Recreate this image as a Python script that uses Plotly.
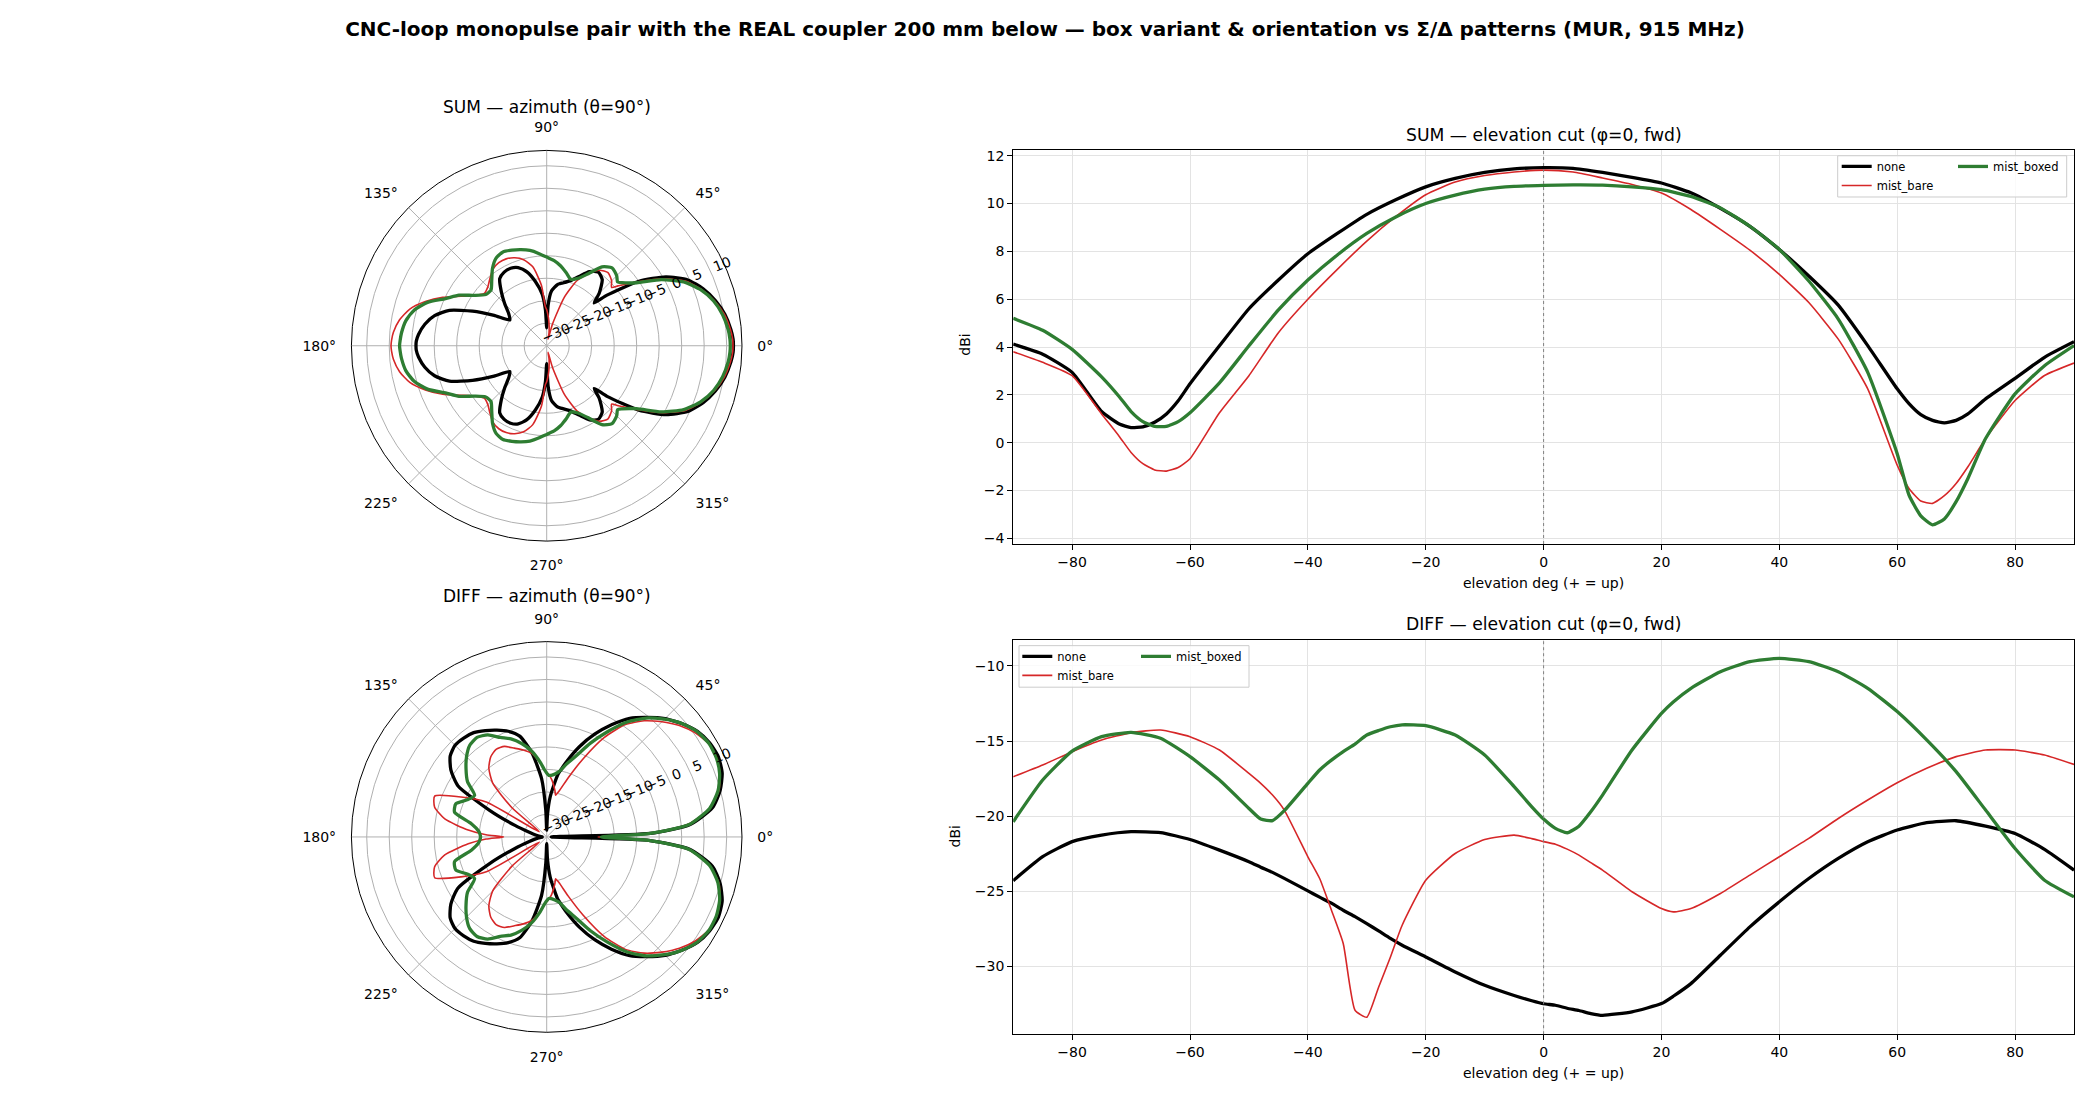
import plotly.graph_objects as go

# ---- azimuth cuts (theta = 90 deg), degrees / dBi ----
az_deg = [0, 2, 5, 10, 15, 20, 25, 30, 35, 40, 42, 45, 50, 55, 60, 65, 70, 75, 78, 80, 85, 88,
          90, 92, 95, 100, 105, 110, 115, 120, 125, 130, 135, 140, 145, 150, 155, 160, 165, 170,
          175, 178, 180,
          182, 185, 190, 195, 200, 205, 210, 215, 220, 225, 230, 235, 240, 245, 250, 255, 260,
          265, 268, 270, 272, 275, 280, 282, 285, 290, 295, 300, 305, 310, 315, 318, 320, 325,
          330, 335, 340, 345, 350, 355, 358, 360]

sum_az_none = [11.5, 11.45, 11.1, 10.2, 8.8, 7.0, 4.6, 0.6, -5.0, -12.5, -15.8, -13.5, -10.8, -10.0,
               -11.0, -13.0, -14.6, -15.5, -15.9, -16.2, -17.8, -21.0, -26.0, -22.0, -18.5, -15.5,
               -13.0, -11.5, -11.0, -11.1, -11.8, -14.3, -16.8, -19.0, -20.0, -16.5, -11.8, -7.0,
               -4.2, -2.5, -1.4, -1.0, -0.95,
               -1.0, -1.4, -2.5, -4.2, -7.0, -11.8, -16.5, -20.0, -19.0, -16.8, -14.3, -11.8, -11.1,
               -11.0, -11.5, -13.0, -15.5, -18.5, -22.0, -26.0, -21.0, -17.8, -16.2, -15.9, -15.5,
               -14.6, -13.0, -11.0, -10.0, -10.8, -13.5, -15.8, -12.5, -5.0, 0.6, 4.6, 7.0, 8.8,
               10.2, 11.1, 11.45, 11.5]
sum_az_bare = [11.4, 11.35, 11.0, 10.1, 8.6, 6.6, 4.0, -0.2, -5.2, -9.3, -10.6, -9.6, -8.8, -9.5,
               -11.5, -14.0, -18.5, -25.0, -28.5, -27.0, -24.5, -23.0, -22.0, -21.3, -16.5, -12.2,
               -10.2, -9.2, -8.7, -8.7, -9.2, -10.4, -11.5, -11.9, -10.5, -8.0, -4.5, -1.3, 1.5,
               3.2, 4.2, 4.5, 4.6,
               4.5, 4.2, 3.2, 1.5, -1.3, -4.5, -8.0, -10.5, -11.9, -11.5, -10.4, -9.2, -8.7, -8.7,
               -9.2, -10.2, -12.2, -16.5, -21.3, -22.0, -23.0, -24.5, -27.0, -28.5, -25.0, -18.5,
               -14.0, -11.5, -9.5, -8.8, -9.6, -10.6, -9.3, -5.2, -0.2, 4.0, 6.6, 8.6, 10.1, 11.0,
               11.35, 11.4]
sum_az_boxed = [10.8, 10.75, 10.5, 9.7, 8.4, 6.4, 3.6, -0.6, -5.6, -8.2, -8.8, -8.0, -7.4, -8.6,
                -11.5, -13.5, -14.3, -13.2, -12.5, -12.0, -11.0, -10.6, -10.3, -10.0, -9.4, -8.5,
                -7.9, -7.4, -7.0, -7.5, -9.0, -11.0, -12.5, -12.3, -10.5, -7.5, -5.2, -1.8, 0.5,
                1.8, 2.4, 2.6, 2.7,
                2.6, 2.4, 1.8, 0.5, -1.8, -5.2, -7.5, -10.5, -12.3, -12.5, -11.0, -9.0, -7.5, -7.0,
                -7.4, -7.9, -8.5, -9.4, -10.0, -10.3, -10.6, -11.0, -12.0, -12.5, -13.2, -14.3,
                -13.5, -11.5, -8.6, -7.4, -8.0, -8.8, -8.2, -5.6, -0.6, 3.6, 6.4, 8.4, 9.7, 10.5,
                10.75, 10.8]

diff_az_none = [-29.0, -7.0, 2.0, 7.4, 9.9, 11.5, 12.1, 11.8, 10.9, 9.2, 8.4, 7.2, 4.7, 2.2, -1.2,
                -4.8, -8.6, -12.5, -14.7, -16.0, -21.0, -25.0, -28.5, -24.0, -17.0, -11.0, -6.8,
                -5.0, -3.8, -2.7, -1.7, -1.3, -1.2, -2.0, -4.0, -7.2, -16.0, -22.5, -26.0, -27.5,
                -28.5, -29.0, -29.0,
                -29.0, -28.5, -27.5, -26.0, -22.5, -16.0, -7.2, -4.0, -2.0, -1.2, -1.3, -1.7, -2.7,
                -3.8, -5.0, -6.8, -11.0, -17.0, -24.0, -28.5, -25.0, -21.0, -16.0, -14.7, -12.5,
                -8.6, -4.8, -1.2, 2.2, 4.7, 7.2, 8.4, 9.2, 10.9, 11.8, 12.1, 11.5, 9.9, 7.4, 2.0,
                -7.0, -29.0]
diff_az_bare = [-18.6, -7.0, 1.5, 6.8, 9.6, 11.0, 11.7, 11.5, 10.3, 8.5, 7.6, 6.2, 3.7, 0.5, -4.5,
                -10.8, -16.0, -19.5, -20.5, -19.5, -17.2, -16.2, -15.6, -15.0, -13.5, -11.2, -10.0,
                -9.0, -7.8, -7.5, -8.3, -10.0, -13.0, -20.0, -28.0, -14.5, -9.0, -3.5, -4.2, -7.0,
                -12.5, -16.5, -20.4,
                -16.5, -12.5, -7.0, -4.2, -3.5, -9.0, -14.5, -28.0, -20.0, -13.0, -10.0, -8.3, -7.5,
                -7.8, -9.0, -10.0, -11.2, -13.5, -15.0, -15.6, -16.2, -17.2, -19.5, -20.5, -19.5,
                -16.0, -10.8, -4.5, 0.5, 3.7, 6.2, 7.6, 8.5, 10.3, 11.5, 11.7, 11.0, 9.6, 6.8, 1.5,
                -7.0, -18.6]
diff_az_boxed = [-17.9, -7.0, 1.8, 6.8, 9.4, 10.9, 11.6, 11.6, 10.8, 9.2, 8.4, 7.0, 4.5, 1.2, -3.0,
                 -7.0, -10.8, -13.3, -14.8, -15.4, -16.2, -16.3, -15.8, -15.0, -13.3, -10.6, -8.5,
                 -6.8, -5.6, -3.8, -3.0, -3.4, -4.8, -6.6, -8.5, -11.5, -10.5, -8.5, -8.8, -13.0,
                 -14.8, -15.2, -15.3,
                 -15.2, -14.8, -13.0, -8.8, -8.5, -10.5, -11.5, -8.5, -6.6, -4.8, -3.4, -3.0, -3.8,
                 -5.6, -6.8, -8.5, -10.6, -13.3, -15.0, -15.8, -16.3, -16.2, -15.4, -14.8, -13.3,
                 -10.8, -7.0, -3.0, 1.2, 4.5, 7.0, 8.4, 9.2, 10.8, 11.6, 11.6, 10.9, 9.4, 6.8, 1.8,
                 -7.0, -17.9]

# ---- elevation cuts (phi = 0, fwd) ----
el_sum = [-90, -85, -80, -75, -72, -70, -68, -66, -64, -62, -60, -55, -50, -45, -40, -35, -30,
          -25, -20, -15, -10, -5, 0, 5, 10, 15, 20, 25, 30, 35, 40, 45, 50, 55, 60, 62, 64, 66,
          68, 70, 72, 75, 80, 85, 90]
sum_el_none = [4.12, 3.7, 2.94, 1.3, 0.78, 0.63, 0.66, 0.85, 1.2, 1.75, 2.46, 4.05, 5.6, 6.8, 7.9,
               8.75, 9.55, 10.17, 10.7, 11.05, 11.3, 11.45, 11.5, 11.47, 11.3, 11.1, 10.86, 10.45,
               9.8, 9.05, 8.08, 6.97, 5.75, 4.06, 2.25, 1.63, 1.17, 0.93, 0.83, 0.93, 1.2, 1.83,
               2.69, 3.57, 4.22]
sum_el_bare = [3.8, 3.36, 2.8, 1.2, 0.26, -0.41, -0.88, -1.14, -1.19, -1.04, -0.67, 1.25, 2.8, 4.6,
               6.0, 7.25, 8.43, 9.47, 10.37, 10.9, 11.17, 11.32, 11.4, 11.32, 11.07, 10.8, 10.44,
               9.75, 8.92, 8.05, 7.04, 5.86, 4.33, 2.25, -0.94, -1.92, -2.44, -2.54, -2.22, -1.71,
               -1.01, 0.17, 1.76, 2.81, 3.33]
sum_el_boxed = [5.2, 4.7, 3.9, 2.75, 1.92, 1.3, 0.88, 0.68, 0.68, 0.88, 1.25, 2.5, 4.05, 5.55, 6.8,
                7.85, 8.75, 9.45, 10.0, 10.35, 10.6, 10.72, 10.76, 10.78, 10.77, 10.7, 10.58, 10.3,
                9.82, 9.05, 8.08, 6.76, 5.17, 2.94, -0.46, -2.19, -3.06, -3.44, -3.19, -2.47, -1.5,
                0.17, 2.04, 3.22, 4.06]

el_diff = [-90, -85, -80, -75, -70, -65, -60, -55, -50, -48, -46, -44, -40, -38, -36, -34, -32,
           -30, -28, -26, -24, -20, -15, -10, -5, -2, 0, 2, 4, 6, 8, 10, 15, 20, 22, 25, 30, 35,
           40, 45, 50, 55, 60, 65, 70, 75, 80, 85, 90]
diff_el_none = [-24.3, -22.7, -21.7, -21.27, -21.04, -21.1, -21.56, -22.27, -23.04, -23.4, -23.75,
                -24.15, -24.98, -25.4, -25.8, -26.27, -26.7, -27.16, -27.65, -28.15, -28.6, -29.38,
                -30.38, -31.27, -31.95, -32.3, -32.5, -32.6, -32.8, -32.95, -33.15, -33.27, -33.04,
                -32.49, -32.0, -31.16, -29.27, -27.38, -25.71, -24.16, -22.82, -21.71, -20.93,
                -20.44, -20.31, -20.67, -21.16, -22.22, -23.6]
diff_el_bare = [-17.38, -16.6, -15.71, -14.93, -14.44, -14.27, -14.71, -15.6, -17.16, -17.82, -18.6,
                -19.6, -22.71, -24.16, -26.27, -28.49, -32.93, -33.4, -31.4, -29.4, -27.27, -24.27,
                -22.49, -21.56, -21.27, -21.5, -21.7, -21.87, -22.2, -22.6, -23.1, -23.6, -25.04,
                -26.16, -26.38, -26.16, -25.16, -23.93, -22.71, -21.49, -20.16, -18.93, -17.78,
                -16.82, -16.04, -15.6, -15.6, -15.93, -16.56]
diff_el_boxed = [-20.38, -17.6, -15.67, -14.71, -14.42, -14.82, -16.04, -17.6, -19.49, -20.2, -20.3,
                 -19.64, -17.82, -16.93, -16.27, -15.7, -15.2, -14.6, -14.3, -14.05, -13.92, -13.98,
                 -14.6, -15.93, -18.04, -19.38, -20.2, -20.82, -21.11, -20.67, -19.71, -18.6, -15.6,
                 -13.16, -12.4, -11.49, -10.38, -9.71, -9.49, -9.71, -10.38, -11.49, -13.04, -14.93,
                 -17.04, -19.6, -22.16, -24.27, -25.38]

variants = ["none", "mist_bare", "mist_boxed"]
colors = {"none": "#000000", "mist_bare": "#d62728", "mist_boxed": "#2e7d32"}
widths = {"none": 3.3, "mist_bare": 1.6, "mist_boxed": 3.3}

az_ticks = [0, 45, 90, 135, 180, 225, 270, 315]
az_ticktext = ["0°", "45°", "90°", "135°", "180°", "225°", "270°", "315°"]
r_ticks = [-30, -25, -20, -15, -10, -5, 0, 5, 10]
# matplotlib puts the r labels left-aligned on the 22.5° spoke; pad to mimic
r_ticktext = ["\u2007\u2007\u2007−30", "\u2007\u2007\u2007−25", "\u2007\u2007\u2007−20",
              "\u2007\u2007\u2007−15", "\u2007\u2007\u2007−10", "\u2007\u2007−5", "\u2007\u20070",
              "\u2007\u20075", "\u2007\u2007\u200710"]

FONT = "DejaVu Sans"
W, H = 2090, 1100

fig = go.Figure()

sum_az = {"none": sum_az_none, "mist_bare": sum_az_bare, "mist_boxed": sum_az_boxed}
diff_az = {"none": diff_az_none, "mist_bare": diff_az_bare, "mist_boxed": diff_az_boxed}
sum_el = {"none": sum_el_none, "mist_bare": sum_el_bare, "mist_boxed": sum_el_boxed}
diff_el = {"none": diff_el_none, "mist_bare": diff_el_bare, "mist_boxed": diff_el_boxed}

# legend split: col 1 = none, mist_bare ; col 2 = mist_boxed (matplotlib ncol=2 look)
sum_leg = {"none": "legend", "mist_bare": "legend", "mist_boxed": "legend2"}
diff_leg = {"none": "legend3", "mist_bare": "legend3", "mist_boxed": "legend4"}

for v in variants:
    pl = dict(color=colors[v], width=widths[v], shape="spline", smoothing=0.6)
    ln = dict(color=colors[v], width=widths[v], shape="spline", smoothing=0.5)
    fig.add_trace(go.Scatterpolar(r=sum_az[v], theta=az_deg, mode="lines", line=pl,
                                  subplot="polar", showlegend=False, name=v))
    fig.add_trace(go.Scatterpolar(r=diff_az[v], theta=az_deg, mode="lines", line=pl,
                                  subplot="polar2", showlegend=False, name=v))
    fig.add_trace(go.Scatter(x=el_sum, y=sum_el[v], mode="lines", line=ln, name=v,
                             xaxis="x", yaxis="y", legend=sum_leg[v]))
    fig.add_trace(go.Scatter(x=el_diff, y=diff_el[v], mode="lines", line=ln, name=v,
                             xaxis="x2", yaxis="y2", legend=diff_leg[v]))


def polar_layout(ydom):
    return dict(
        domain=dict(x=[350.7 / W, 742.7 / W], y=ydom),
        bgcolor="white",
        angularaxis=dict(rotation=0, direction="counterclockwise", tickmode="array",
                         tickvals=az_ticks, ticktext=az_ticktext, showline=True,
                         linecolor="black", linewidth=1, gridcolor="#b0b0b0", gridwidth=0.8,
                         ticks="outside", ticklen=12, tickcolor="rgba(0,0,0,0)",
                         tickfont=dict(family=FONT, size=14, color="black")),
        radialaxis=dict(range=[-30, 13.4], tickmode="array", tickvals=r_ticks,
                        ticktext=r_ticktext, angle=22.5,
                        tickangle=0, side="counterclockwise", showline=False, ticks="",
                        gridcolor="#b0b0b0", gridwidth=0.8,
                        tickfont=dict(family=FONT, size=14, color="black")),
    )


def cart_axes(ydom, yrange, dtick):
    xa = dict(domain=[1013.2 / W, 2074 / W], range=[-90, 90], tickmode="linear", tick0=-80,
              dtick=20, showline=True, mirror=True, linecolor="black", linewidth=1,
              ticks="outside", ticklen=5, tickcolor="black", showgrid=True,
              gridcolor="#e3e3e3", zeroline=False,
              tickfont=dict(family=FONT, size=14, color="black"))
    ya = dict(domain=ydom, range=yrange, dtick=dtick, showline=True, mirror=True,
              linecolor="black", linewidth=1, ticks="outside", ticklen=5, tickcolor="black",
              showgrid=True, gridcolor="#e3e3e3", zeroline=False,
              tickfont=dict(family=FONT, size=14, color="black"))
    return xa, ya


xa1, ya1 = cart_axes([1 - 544 / H, 1 - 148.3 / H], [-4.24, 12.25], 2)
xa2, ya2 = cart_axes([1 - 1036 / H, 1 - 640 / H], [-34.53, -8.25], 5)
xa1["anchor"], ya1["anchor"] = "y", "x"
xa2["anchor"], ya2["anchor"] = "y2", "x2"


def leg(x_px, top_px):
    return dict(x=x_px / W, y=1 - top_px / H, xanchor="left", yanchor="top",
                bgcolor="rgba(0,0,0,0)", borderwidth=0, orientation="v",
                font=dict(family=FONT, size=11.5, color="black"))


annotations = []


def text(s, x_px, y_px, size, angle=0):
    annotations.append(dict(text=s, x=x_px / W, y=1 - y_px / H, xref="paper", yref="paper",
                            showarrow=False, xanchor="center", yanchor="middle", textangle=angle,
                            font=dict(family=FONT, size=size, color="black")))


text("SUM — azimuth (θ=90°)", 546.7, 105, 17)
text("DIFF — azimuth (θ=90°)", 546.7, 596, 17)
text("SUM — elevation cut (φ=0, fwd)", 1543.5, 133, 17.2)
text("DIFF — elevation cut (φ=0, fwd)", 1543.5, 624, 17.2)
text("elevation deg (+ = up)", 1543.5, 583, 14)
text("elevation deg (+ = up)", 1543.5, 1075, 14)
text("dBi", 965, 344, 14, -90)
text("dBi", 954.5, 838, 14, -90)

shapes = []
for xr, yr in [("x", "y domain"), ("x2", "y2 domain")]:
    shapes.append(dict(type="line", xref=xr, yref=yr, x0=0, x1=0, y0=0, y1=1, layer="above",
                       line=dict(color="#808080", width=1, dash="dot")))
# legend frames
for x0, x1, y0, y1 in [(1837.7, 2066.7, 154.3, 195.7), (1019, 1249, 646, 687.7)]:
    shapes.append(dict(type="rect", xref="paper", yref="paper", x0=x0 / W, x1=x1 / W,
                       y0=1 - y1 / H, y1=1 - y0 / H, layer="above",
                       fillcolor="rgba(255,255,255,0.8)", line=dict(color="#cccccc", width=1)))

fig.update_layout(
    width=W, height=H, margin=dict(l=0, r=0, t=0, b=0),
    paper_bgcolor="white", plot_bgcolor="white",
    font=dict(family=FONT, color="black"),
    title=dict(text="CNC-loop monopulse pair with the REAL coupler 200 mm below — box variant "
                    "& orientation vs Σ/Δ patterns (MUR, 915 MHz)",
               x=0.5, xanchor="center", y=1 - 29 / H, yanchor="middle",
               font=dict(family=FONT, size=20, color="black", weight="bold")),
    polar=polar_layout([1 - 541 / H, 1 - 149 / H]),
    polar2=polar_layout([1 - 1034 / H, 1 - 642 / H]),
    xaxis=xa1, yaxis=ya1, xaxis2=xa2, yaxis2=ya2,
    legend=leg(1836.7, 150.5), legend2=leg(1953, 150.5),
    legend3=leg(1017.3, 642.2), legend4=leg(1136, 642.2),
    annotations=annotations, shapes=shapes,
)

# page body margin off so the 2090x1100 figure sits at the window origin
fig.write_html("out.html", config={"displayModeBar": False},
               post_script="document.body.style.margin = '0px';")
